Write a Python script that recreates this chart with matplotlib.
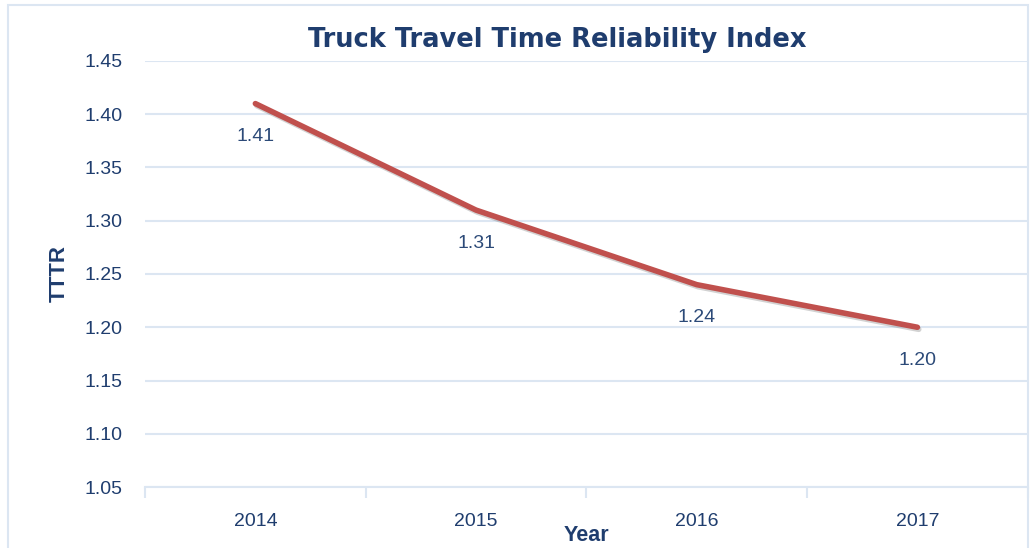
import matplotlib.pyplot as plt
import matplotlib.patheffects as pe
from matplotlib.patches import Rectangle
from matplotlib.ticker import FixedLocator, NullFormatter

# data
years = ["2014", "2015", "2016", "2017"]
tttr = [1.41, 1.31, 1.24, 1.20]
yticks = [1.05, 1.10, 1.15, 1.20, 1.25, 1.30, 1.35, 1.40, 1.45]

navy = "#1F3D6E"
label_col = "#2C4A78"
grid_col = "#DCE6F2"
line_col = "#C0504D"

plt.rcParams["font.family"] = ["Liberation Sans", "DejaVu Sans"]

fig = plt.figure(figsize=(10.3, 5.48), dpi=100)
ax = fig.add_axes([0.1408, 0.1113, 0.857, 0.7774])

# outer chart border
fig.patches.append(Rectangle((0.008, -0.01), 0.99, 1.0, transform=fig.transFigure,
                             fill=False, edgecolor=grid_col, linewidth=1.5))

x = list(range(len(years)))
ax.plot(x, tttr, color=line_col, linewidth=4, solid_capstyle="round",
        path_effects=[pe.SimpleLineShadow(offset=(1, -1.5), shadow_color="gray", alpha=0.35),
                      pe.Normal()])

for xi, v in zip(x, tttr):
    ax.annotate(f"{v:.2f}", (xi, v), xytext=(0, -24), textcoords="offset points",
                ha="center", va="center", fontsize=14, color=label_col)

ax.set_xlim(-0.5, len(years) - 0.5)
ax.set_ylim(1.05, 1.45)
ax.set_yticks(yticks)
ax.set_yticklabels([f"{t:.2f}" for t in yticks])
ax.set_xticks(x)
ax.set_xticklabels(years)
ax.xaxis.set_minor_locator(FixedLocator([i - 0.5 for i in range(len(years) + 1)]))
ax.xaxis.set_minor_formatter(NullFormatter())

ax.grid(axis="y", color=grid_col, linewidth=1.5)
ax.set_axisbelow(True)
for s in ["top", "right", "left"]:
    ax.spines[s].set_visible(False)
ax.spines["bottom"].set_color(grid_col)
ax.spines["bottom"].set_linewidth(1.5)

ax.tick_params(axis="y", length=0, pad=16, labelsize=14, labelcolor=navy)
ax.tick_params(axis="x", which="major", length=0, pad=18.5, labelsize=14, labelcolor=navy)
ax.tick_params(axis="x", which="minor", length=8, width=1.5, color=grid_col, direction="out")

ax.set_title("Truck Travel Time Reliability Index", fontsize=18.5, fontweight="bold",
             family="DejaVu Sans", color=navy, pad=10, x=0.467)
ax.set_ylabel("TTTR", fontsize=16, fontweight="bold", color=navy, labelpad=11)
ax.set_xlabel("Year", fontsize=15.5, fontweight="bold", color=navy, labelpad=-3.5)

fig.savefig("out.png", dpi=100)
